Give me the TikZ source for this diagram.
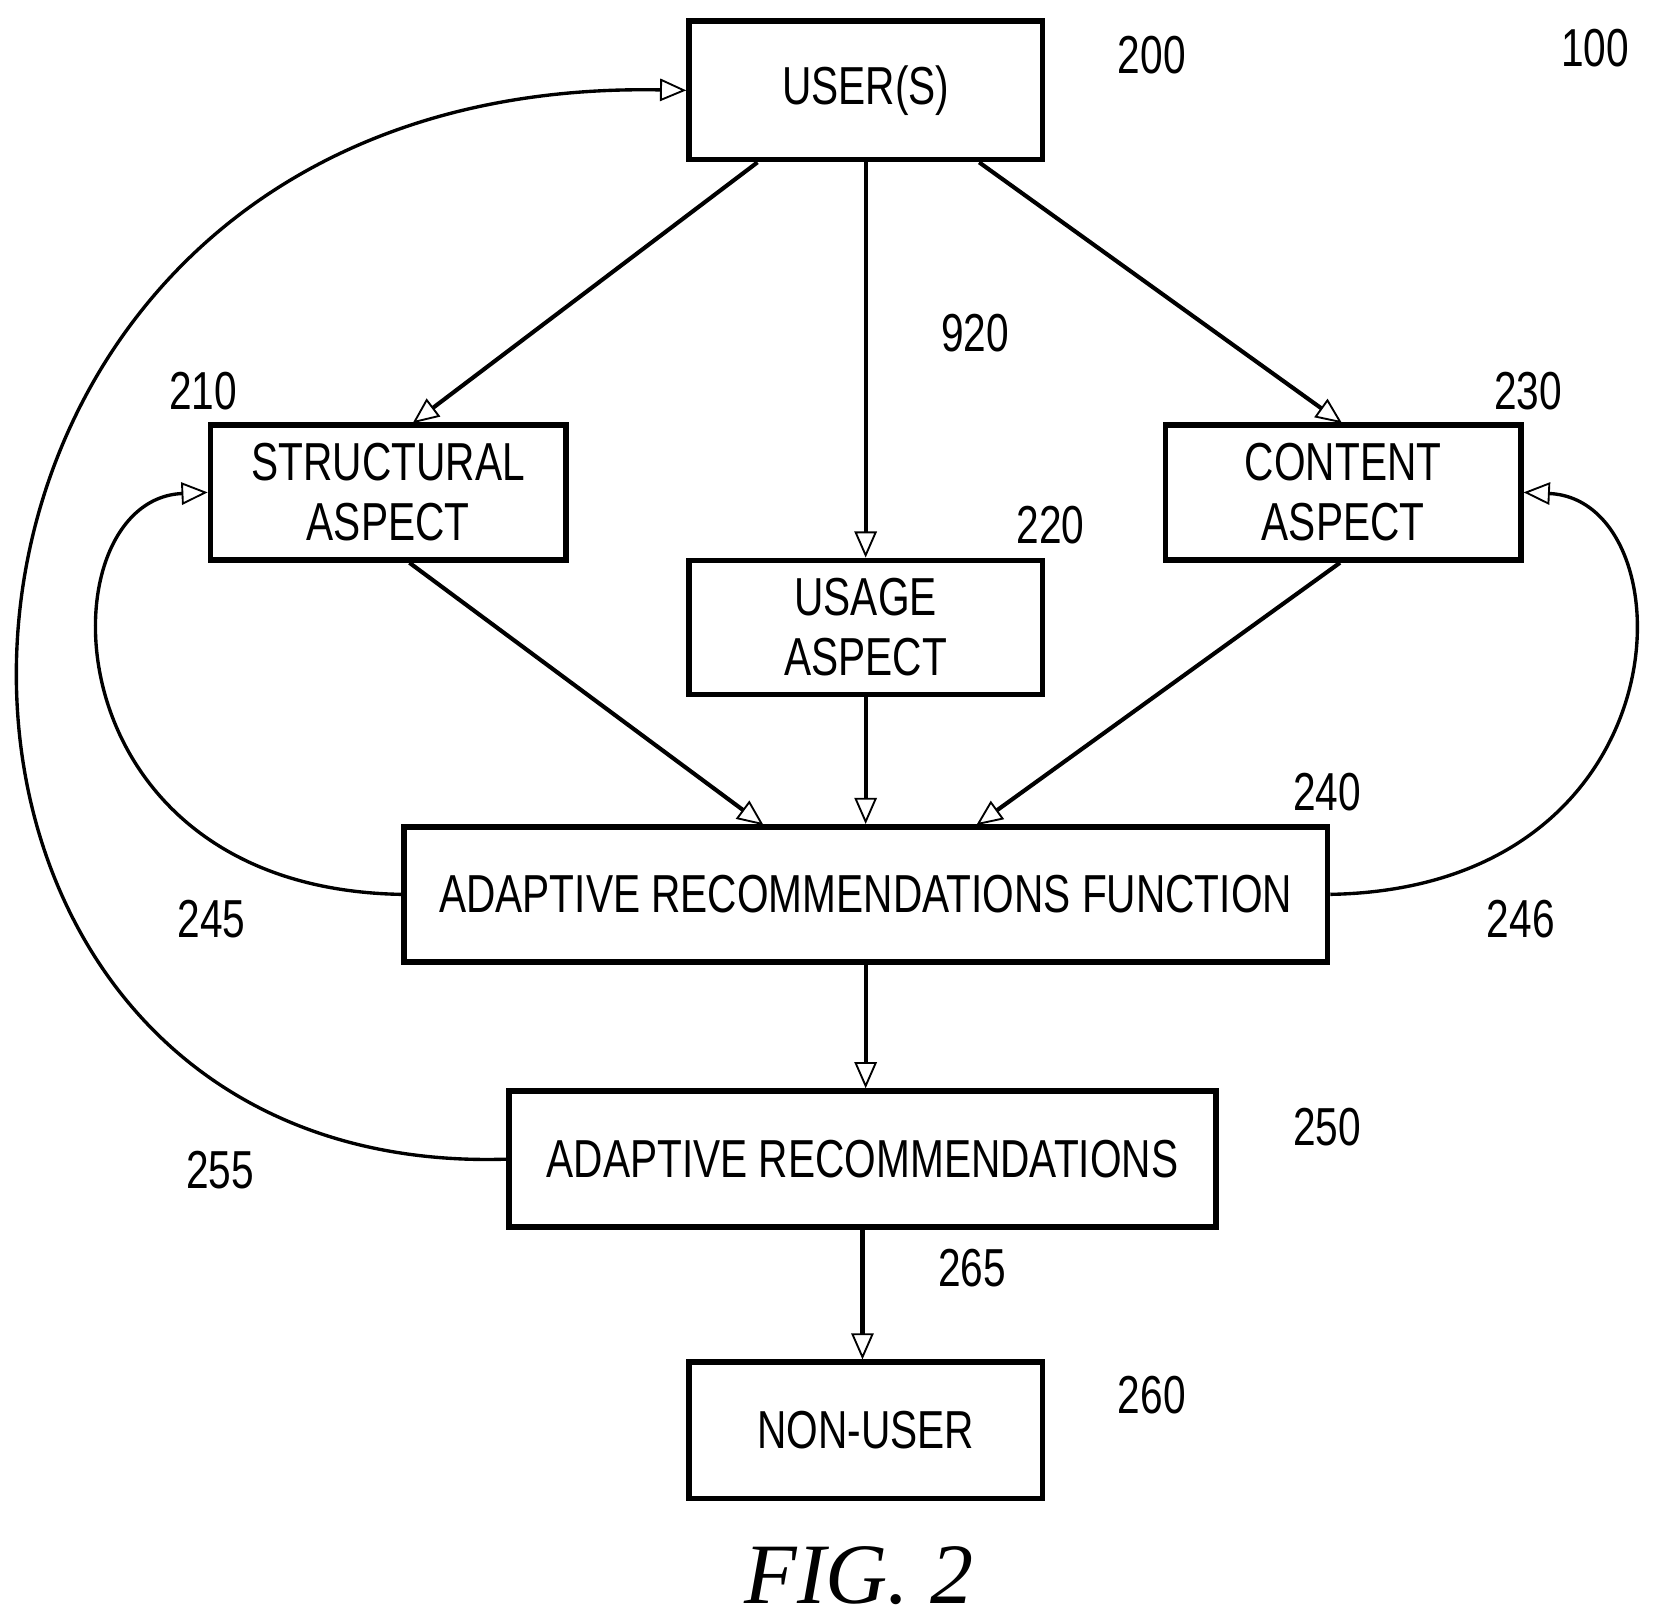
\documentclass[tikz,border=0pt]{standalone}
\usepackage{fontspec}
\setmainfont{Liberation Sans}[FakeStretch=0.76]
\newfontfamily\figfont{Liberation Serif}
\usetikzlibrary{arrows.meta}

\begin{document}
\begin{tikzpicture}[x=0.01cm, y=-0.01cm,
  box/.style={draw, line width=1.5pt, align=center, font=\fontsize{14.3}{16}\selectfont, inner sep=0pt},
  flow/.style={line width=1.1pt, -{Triangle[open, length=7pt, width=6pt, line width=0.5pt]}},
  loop/.style={line width=0.9pt, -{Triangle[open, length=7pt, width=6pt, line width=0.5pt]}},
  num/.style={font=\fontsize{14.3}{16}\selectfont}]
 \useasboundingbox (0,0) rectangle (1560,1522);
 % boxes
 \node[box, minimum width=3.32cm, minimum height=1.30cm] (users) at (814,85) {USER(S)};
 \node[box, minimum width=3.34cm, minimum height=1.27cm] (struct) at (365,463) {STRUCTURAL\\ASPECT};
 \node[box, minimum width=3.32cm, minimum height=1.26cm] (usage) at (814,590) {USAGE\\ASPECT};
 \node[box, minimum width=3.34cm, minimum height=1.27cm] (content) at (1263,463) {CONTENT\\ASPECT};
 \node[box, minimum width=8.68cm, minimum height=1.27cm] (arf) at (814,841) {ADAPTIVE RECOMMENDATIONS FUNCTION};
 \node[box, minimum width=6.64cm, minimum height=1.28cm] (ar) at (811,1090) {ADAPTIVE RECOMMENDATIONS};
 \node[box, minimum width=3.32cm, minimum height=1.28cm] (nonuser) at (814,1345) {NON-USER};
 % straight connectors
 \draw[flow] (users.south west) ++(67,0) coordinate (u1) -- (388,398);
 \draw[flow] (users) -- (usage);
 \draw[flow] (users.south east) ++(-62,0) coordinate (u3) -- (1262,398);
 \draw[flow] (struct.south) ++(20,0) coordinate (s1) -- (718,776);
 \draw[flow] (usage) -- (usage |- arf.north);
 \draw[flow] (content.south) ++(-3,0) coordinate (c1) -- (918,776);
 \draw[flow] (arf) -- (arf |- ar.north);
 \draw[flow] (ar) -- (ar |- nonuser.north);
 % feedback loops
 \draw[loop] (arf.west) .. controls (40,835) and (40,470) .. (struct.west);
 \draw[loop] (arf.east) .. controls (1590,835) and (1590,470) .. (content.east);
 \draw[loop] (ar.west) .. controls (-170,1110) and (-150,70) .. (users.west);
 % reference numerals
 \node[num] (n100) at (1500,45) {100};
 \node[num] (n200) at (1083,52) {200};
 \node[num] (n920) at (917,313) {920};
 \node[num] (n210) at (191,368) {210};
 \node[num] (n230) at (1437,368) {230};
 \node[num] (n220) at (988,494) {220};
 \node[num] (n240) at (1248,745) {240};
 \node[num] (n245) at (199,864) {245};
 \node[num] (n246) at (1430,864) {246};
 \node[num] (n250) at (1248,1060) {250};
 \node[num] (n255) at (207,1100) {255};
 \node[num] (n265) at (914,1192) {265};
 \node[num] (n260) at (1083,1312) {260};
 \node[font=\figfont\itshape\fontsize{23}{26}\selectfont] (fig) at (808,1482) {FIG. 2};
\end{tikzpicture}
\end{document}
